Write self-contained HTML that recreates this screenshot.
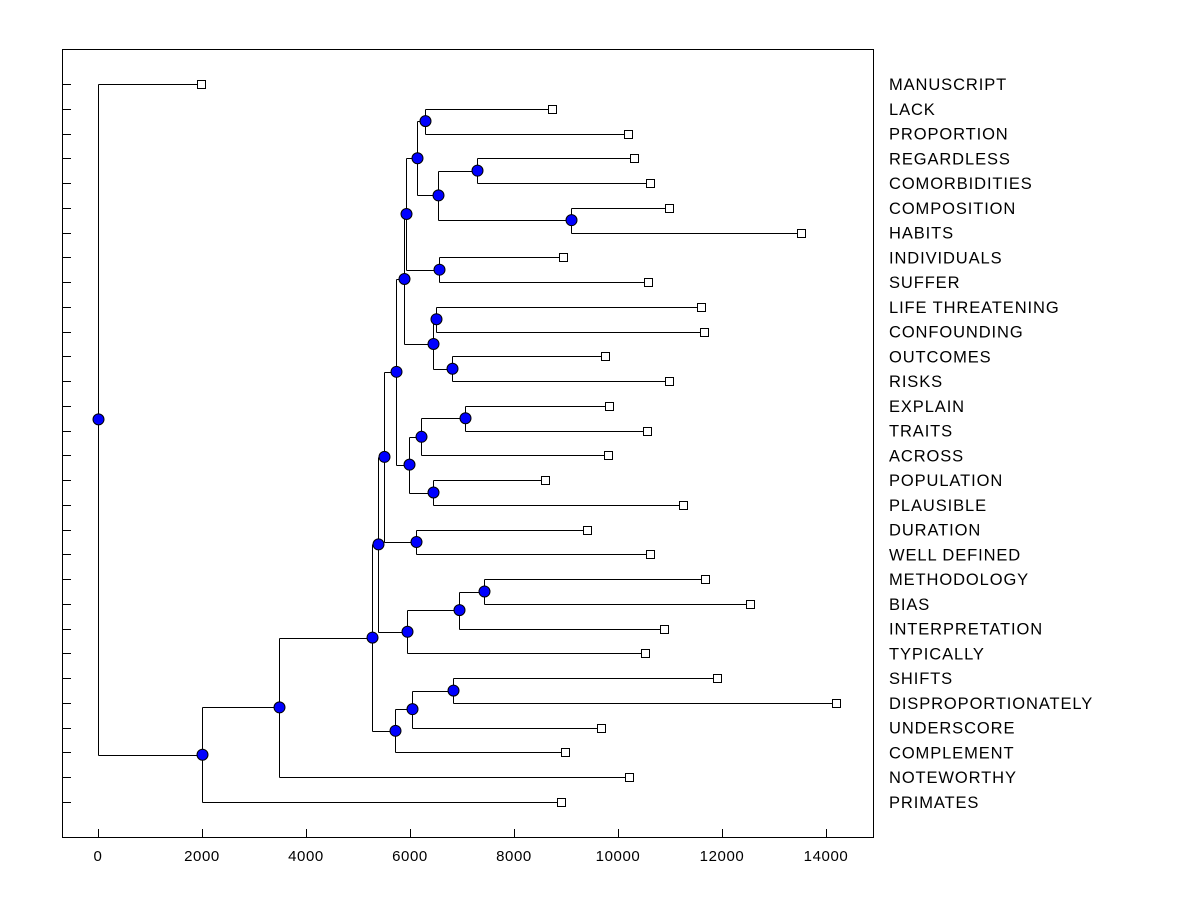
<!DOCTYPE html>
<html><head><meta charset="utf-8"><style>
html,body{margin:0;padding:0;background:#fff;}
svg{display:block;font-family:"Liberation Sans",Arial,sans-serif;}
</style></head><body>
<svg id="chart" width="1200" height="900" xmlns="http://www.w3.org/2000/svg">
<rect x="62.5" y="49.5" width="811" height="788" fill="none" stroke="#000" stroke-width="1"/>
<g id="ticks"></g>
<g id="lines"></g>
<g id="marks"></g>
<g id="labels"></g>
</svg>
<script>
const leafNames = ["MANUSCRIPT","LACK","PROPORTION","REGARDLESS","COMORBIDITIES","COMPOSITION","HABITS","INDIVIDUALS","SUFFER","LIFE THREATENING","CONFOUNDING","OUTCOMES","RISKS","EXPLAIN","TRAITS","ACROSS","POPULATION","PLAUSIBLE","DURATION","WELL DEFINED","METHODOLOGY","BIAS","INTERPRETATION","TYPICALLY","SHIFTS","DISPROPORTIONATELY","UNDERSCORE","COMPLEMENT","NOTEWORTHY","PRIMATES"];
const leafValues = [1980,8730,10190,10310,10620,10980,13520,8940,10580,11600,11650,9750,10980,9830,10560,9810,8600,11250,9400,10620,11670,12540,10880,10520,11900,14190,9670,8980,10210,8900];
const xTicks = [0,2000,4000,6000,8000,10000,12000,14000];
const nodeHeights = {
 Y:6288, AA:7288, BB:9096, Z:6538, V:6135, U:6558, T:5923, R:6500, S:6808, Q:6442, P:5885,
 O:7058, M:6212, N:6442, LN:5981, K:5731, I:6115, H:5500, X:7423, W:6942, J:5942, D:5385,
 G:6827, F:6038, E:5712, C:5269, B:3481, A:2000, ROOT:0
};
const nodeChildren = {
 Y:["L1","L2"], AA:["L3","L4"], BB:["L5","L6"], Z:["AA","BB"], V:["Y","Z"], U:["L7","L8"],
 T:["V","U"], R:["L9","L10"], S:["L11","L12"], Q:["R","S"], P:["T","Q"],
 O:["L13","L14"], M:["O","L15"], N:["L16","L17"], LN:["M","N"], K:["P","LN"],
 I:["L18","L19"], H:["K","I"], X:["L20","L21"], W:["X","L22"], J:["W","L23"], D:["H","J"],
 G:["L24","L25"], F:["G","L26"], E:["F","L27"], C:["D","E"], B:["C","L28"], A:["B","L29"], ROOT:["L0","A"]
};
const NS="http://www.w3.org/2000/svg";
const xPx = v => 98 + v*0.052;
const rowY = i => 84 + i*(802-84)/29;
function isLeaf(id){return /^L\d+$/.test(id);}
function mk(tag, attrs, parent){const e=document.createElementNS(NS,tag);for(const k in attrs)e.setAttribute(k,attrs[k]);parent.appendChild(e);return e;}
const gT=document.getElementById('ticks'),gL=document.getElementById('lines'),gM=document.getElementById('marks'),gLab=document.getElementById('labels');
xTicks.forEach(t=>{
 const x=Math.round(xPx(t))+0.5;
 const l=mk('line',{x1:x,x2:x,y1:837,y2:829,stroke:'#000'},gT);
 
 
 const tx=mk('text',{x:xPx(t),y:861,'font-size':15,'text-anchor':'middle','letter-spacing':0.6,fill:'#000'},gT);
 tx.textContent=t;
 
 
});
leafNames.forEach((n,i)=>{
 const y=Math.round(rowY(i))+0.5;
 const l=mk('line',{x1:62,x2:71,y1:y,y2:y,stroke:'#000'},gT);
 
 
});
function yOf(id){
 if(isLeaf(id))return rowY(+id.slice(1));
 const c=nodeChildren[id];return (yOf(c[0])+yOf(c[c.length-1]))/2;
}
function hOf(id){ if(isLeaf(id))return leafValues[+id.slice(1)]; return nodeHeights[id]; }
const dots=[];
function draw(id){
 const c=nodeChildren[id];
 const x=Math.round(xPx(hOf(id)))+0.5, y=yOf(id);
 const ys=c.map(ch=>Math.round(yOf(ch))+0.5);
 const v=mk('line',{x1:x,x2:x,y1:Math.min(...ys),y2:Math.max(...ys),stroke:'#000'},gL);
 
 
 c.forEach(ch=>{
  const cy=Math.round(yOf(ch))+0.5;
  const h=mk('line',{x1:x,x2:xPx(hOf(ch)),y1:cy,y2:cy,stroke:'#000'},gL);
  
  
  if(!isLeaf(ch))draw(ch);
 });
 dots.push([x,y]);
}
draw('ROOT');
dots.forEach(([x,y])=>{
 const d=mk('circle',{cx:x,cy:y,r:5.5,fill:'#0000ff',stroke:'#000','stroke-width':1},gM);
 
 
});
leafNames.forEach((n,i)=>{
 const x=xPx(leafValues[i]), y=rowY(i);
 const s=mk('rect',{x:Math.round(x-4)+0.5,y:Math.round(y-4)+0.5,width:8,height:8,fill:'#fff',stroke:'#000'},gM);
 
 
 const t=mk('text',{x:889,y:y+6,'font-size':16.5,'letter-spacing':0.9,fill:'#000'},gLab);
 t.textContent=n;
 
 
});
</script>
</body></html>
